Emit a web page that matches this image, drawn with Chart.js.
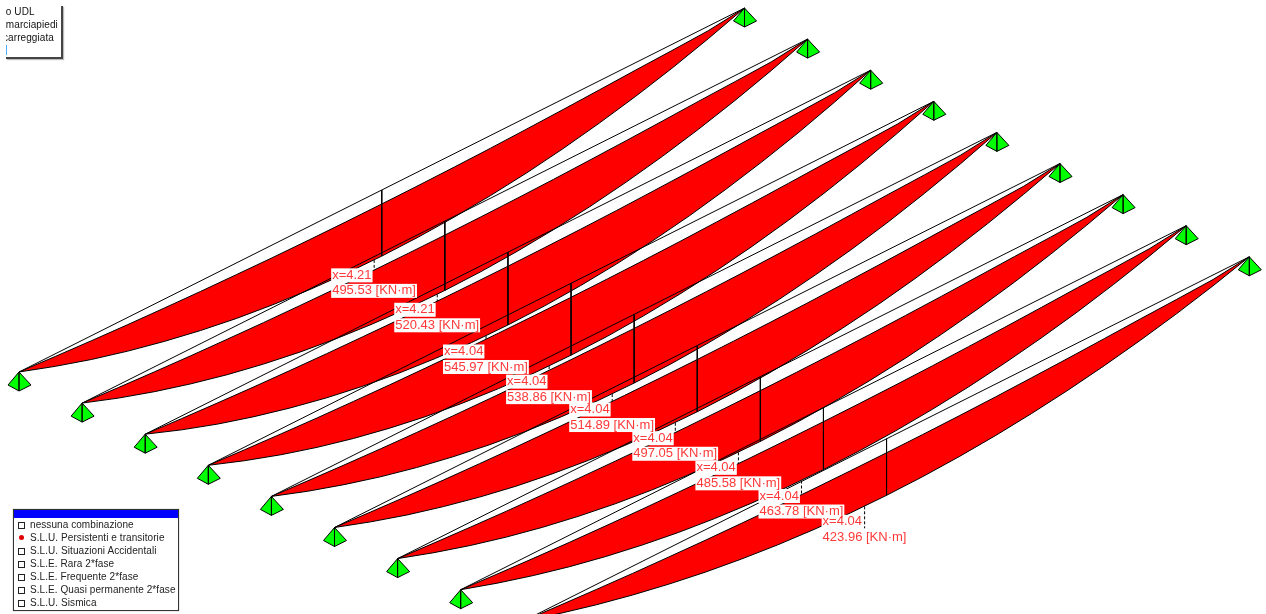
<!DOCTYPE html>
<html>
<head>
<meta charset="utf-8">
<title>Momento flettente</title>
<script src="https://cdn.jsdelivr.net/npm/chart.js@4/dist/chart.umd.min.js"></script>
<style>
  html, body { margin: 0; padding: 0; background: #fff; overflow: hidden; }
  #wrap { position: relative; width: 1266px; height: 614px; font-family: "Liberation Sans", Arial, sans-serif; }
  canvas { position: absolute; left: 0; top: 0; }
  #loads { position: absolute; left: 6px; top: 6px; width: 55px; height: 51px; background: #fff; overflow: hidden;
    border-right: 2px solid #444; border-bottom: 2px solid #444; box-shadow: 1px 1px 1px #bbb; font-size: 10px; letter-spacing: 0.08px; }
  #loads div { position: absolute; left: -3px; white-space: pre; color: #111; }
  #combos { position: absolute; left: 13px; top: 509px; width: 164px; height: 100px; background: #fff; border: 1px solid #333; box-shadow: 0 0 1px #888; font-size: 10px; letter-spacing: 0.07px; color: #222; }
  #combos .bar { height: 8px; background: #0000ff; }
  #combos .row { position: absolute; left: 16px; white-space: pre; }
  #combos .box { position: absolute; left: 4px; width: 5px; height: 5px; border: 1px solid #222; }
  #combos .dot { position: absolute; left: 5px; width: 5px; height: 5px; border-radius: 50%; background: #e00000; }
</style>
</head>
<body>
<div id="wrap">
  <canvas id="chart" width="1266" height="614"></canvas>
  <div id="loads"></div>
  <div id="combos"><div class="bar"></div></div>
</div>
<script>
// stations along the span, metres
const stations = [0, 0.43, 0.86, 1.29, 1.72, 2.15, 2.58, 3.01, 3.44, 3.87, 4.3,
  4.73, 5.16, 5.59, 6.02, 6.45, 6.88, 7.31, 7.74, 8.17, 8.6];

// lower envelope, same on all beams
const minMoments = [0, 20, 38, 54, 67, 79, 88, 96, 101, 104, 105, 104, 101, 96, 88, 79, 68, 56, 46, 34, 0];

// upper envelope per beam, KN*m
const beam1 = [0, 94, 179, 253, 317, 372, 417, 451, 476, 491, 496, 491, 476, 451, 417, 372, 317, 253, 179, 94, 0];
const beam2 = [0, 99, 187, 265, 333, 390, 437, 473, 499, 515, 520, 515, 499, 473, 437, 390, 333, 265, 187, 99, 0];
const beam3 = [0, 104, 197, 278, 349, 410, 459, 497, 524, 541, 546, 541, 524, 497, 459, 410, 349, 278, 197, 104, 0];
const beam4 = [0, 102, 194, 275, 345, 404, 453, 490, 517, 534, 539, 534, 517, 490, 453, 404, 345, 275, 194, 102, 0];
const beam5 = [0, 98, 185, 263, 330, 386, 433, 469, 494, 510, 515, 510, 494, 469, 433, 386, 330, 263, 185, 98, 0];
const beam6 = [0, 94, 179, 253, 318, 373, 417, 452, 477, 492, 497, 492, 477, 452, 417, 373, 318, 253, 179, 94, 0];
const beam7 = [0, 92, 175, 248, 311, 364, 408, 442, 466, 481, 486, 481, 466, 442, 408, 364, 311, 248, 175, 92, 0];
const beam8 = [0, 88, 167, 237, 297, 348, 390, 422, 445, 459, 464, 459, 445, 422, 390, 348, 297, 237, 167, 88, 0];
const beam9 = [0, 81, 153, 216, 271, 318, 356, 386, 407, 420, 424, 420, 407, 386, 356, 318, 271, 216, 153, 81, 0];
const beams = [beam1, beam2, beam3, beam4, beam5, beam6, beam7, beam8, beam9];

// max values printed on the diagram
const peakX = [4.21, 4.21, 4.04, 4.04, 4.04, 4.04, 4.04, 4.04, 4.04];
const peakMoment = [495.53, 520.43, 545.97, 538.86, 514.89, 497.05, 485.58, 463.78, 423.96];

const loadCases = ['to UDL', ' marciapiedi', 'carreggiata'];
const combinations = ['nessuna combinazione', 'S.L.U. Persistenti e transitorie', 'S.L.U. Situazioni Accidentali',
  'S.L.E. Rara 2*fase', 'S.L.E. Frequente 2*fase', 'S.L.E. Quasi permanente 2*fase', 'S.L.U. Sismica'];
const activeCombination = 1;

// oblique view: span metres + beam number + moment -> chart units
const SPAN = 8.6;
const MID = 4.3;
function project(beam, xm, moment) {
  const t = xm / SPAN;
  return {
    x: 19 + 725.5 * t + 63.1 * beam,
    y: 372 - 364 * t + 31.1 * beam + moment * 0.1333,
  };
}

function support(apex) {
  const foot = { x: apex.x, y: apex.y + 19 };
  return [
    apex,
    { x: apex.x - 11, y: apex.y + 13 },
    foot,
    apex,
    foot,
    { x: apex.x + 12, y: apex.y + 13 },
    apex,
  ];
}

const datasets = [];
function addLine(points, order, extra) {
  datasets.push(Object.assign({
    type: 'scatter', data: points, showLine: true, order: order, pointRadius: 0,
    borderColor: '#000', borderWidth: 1, tension: 0, fill: false,
  }, extra));
}

beams.forEach((moments, b) => {
  const order = 1000 - b * 10;
  const lower = stations.map((x, i) => project(b, x, moments[i]));
  const upper = stations.map((x, i) => project(b, x, minMoments[i])).reverse();
  addLine(lower.concat(upper), order, { fill: 'shape', backgroundColor: '#ff0000' });
  addLine([project(b, 0, 0), project(b, SPAN, 0)], order - 1);
  addLine([project(b, MID, 0), project(b, MID, moments[10])], order - 2);
  addLine(support(project(b, 0, 0)), order - 3, { fill: 'shape', backgroundColor: '#00ff00' });
  addLine(support(project(b, SPAN, 0)), order - 3, { fill: 'shape', backgroundColor: '#00ff00' });
  const foot = project(b, peakX[b], peakMoment[b]);
  addLine([foot, { x: foot.x, y: foot.y + 22 }], order - 4, { borderDash: [3, 2] });
});

const peakLabels = {
  id: 'peakLabels',
  afterDatasetsDraw(chart) {
    const { ctx, scales } = chart;
    ctx.save();
    ctx.font = '13px "Liberation Sans", Arial, sans-serif';
    ctx.textBaseline = 'middle';
    const items = [];
    peakMoment.forEach((m, b) => {
      const foot = project(b, peakX[b], m);
      const left = scales.x.getPixelForValue(foot.x) - 42;
      const y = scales.y.getPixelForValue(foot.y);
      items.push({ txt: 'x=' + peakX[b].toFixed(2), left, cy: y + 15.5 });
      items.push({ txt: m.toFixed(2) + ' [KN·m]', left, cy: y + 31 });
    });
    // boxes first so no box cuts the text of the next label
    ctx.fillStyle = '#fff';
    items.forEach(it => ctx.fillRect(it.left - 1, it.cy - 7, ctx.measureText(it.txt).width + 2, 14));
    ctx.fillStyle = '#ff3838';
    items.forEach(it => ctx.fillText(it.txt, it.left, it.cy));
    ctx.restore();
  },
};

new Chart(document.getElementById('chart'), {
  data: { datasets },
  options: {
    responsive: false,
    animation: false,
    devicePixelRatio: 1,
    layout: { padding: 0 },
    events: [],
    plugins: { legend: { display: false }, tooltip: { enabled: false } },
    scales: {
      x: { type: 'linear', display: false, min: 0, max: 1266 },
      y: { type: 'linear', display: false, min: 0, max: 614, reverse: true },
    },
  },
  plugins: [peakLabels],
});

const loads = document.getElementById('loads');
loadCases.forEach((txt, i) => {
  const d = document.createElement('div');
  d.textContent = txt;
  d.style.top = (i * 13) + 'px';
  loads.appendChild(d);
});
const tick = document.createElement('div');
tick.textContent = '|';
tick.style.cssText = 'top:38px;left:-1px;color:#0090ff';
loads.appendChild(tick);

const combos = document.getElementById('combos');
combinations.forEach((txt, i) => {
  const top = 9 + i * 13;
  const row = document.createElement('div');
  row.className = 'row';
  row.textContent = txt;
  row.style.top = top + 'px';
  combos.appendChild(row);
  const mark = document.createElement('div');
  mark.className = i === activeCombination ? 'dot' : 'box';
  mark.style.top = (top + 3) + 'px';
  combos.appendChild(mark);
});
</script>
</body>
</html>
